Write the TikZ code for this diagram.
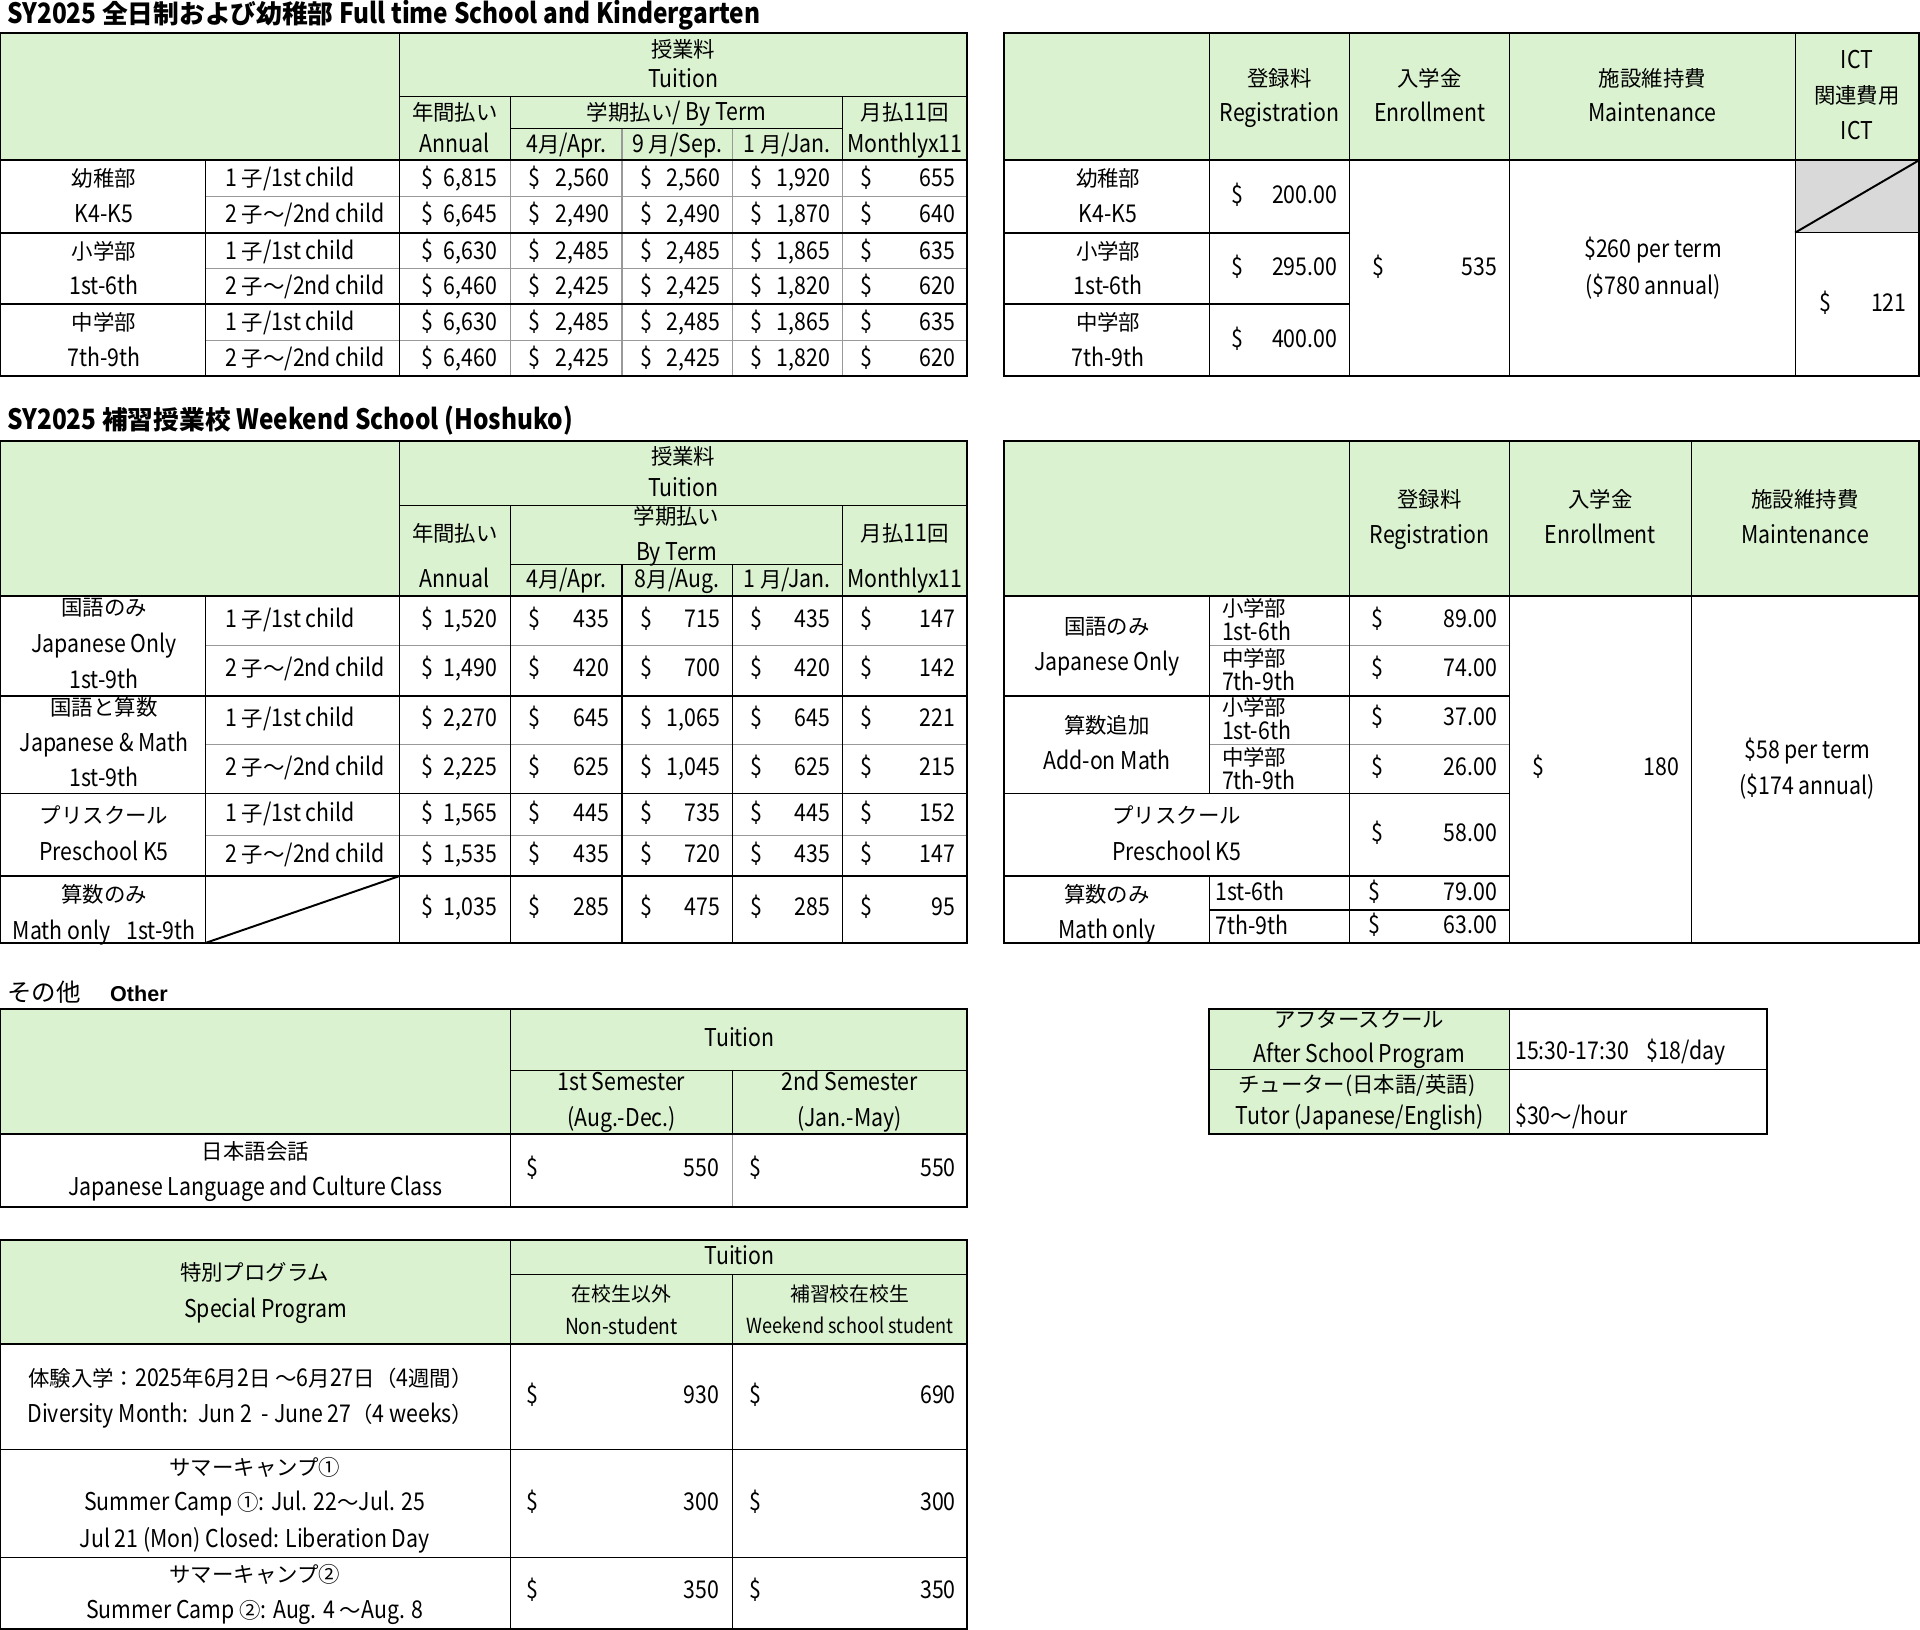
\documentclass[tikz,border=0pt]{standalone}
\usepackage{fontspec}
\setmainfont{Noto Sans CJK JP}[FakeStretch=0.87]
\newfontfamily\cjkf{Noto Sans CJK JP}
\newfontfamily\arialf{Liberation Sans}
\definecolor{hdr}{HTML}{DAF2D0}
\definecolor{ictgray}{HTML}{D9D9D9}
\newcounter{nd}
\newcommand\J[1]{{\cjkf\fontsize{17.5pt}{20pt}\selectfont #1}}
\newcommand\cellC[3]{\stepcounter{nd}\node[txt,anchor=base] (n\arabic{nd}) at (#1,#2) {#3};}
\newcommand\cellL[3]{\stepcounter{nd}\node[txt,anchor=base west] (n\arabic{nd}) at (#1,#2) {#3};}
\newcommand\cellR[3]{\stepcounter{nd}\node[txt,anchor=base east] (n\arabic{nd}) at (#1,#2) {#3};}
\newcommand\cellM[4]{\cellL{#1}{#3}{\$}\cellR{#2}{#3}{#4}}
\newcommand\rowA[6]{\cellM{344}{406}{#1}{#2}\cellM{432}{497.5}{#1}{#3}\cellM{523}{588}{#1}{#4}\cellM{613}{678}{#1}{#5}\cellM{703}{780}{#1}{#6}}
\newcommand\ttl[3]{\stepcounter{nd}\node[inner sep=0pt,outer sep=0pt,anchor=base west,font=\bfseries\fontsize{22.9pt}{28pt}\selectfont] (n\arabic{nd}) at (#1,#2) {#3};}
\newcommand\JT[1]{{\cjkf\bfseries\fontsize{21pt}{24pt}\selectfont #1}}
\begin{document}
\begin{tikzpicture}[x=1pt,y=-1pt,
  txt/.style={inner sep=0pt,outer sep=0pt,yshift=-6.6pt,font=\fontsize{20pt}{24pt}\selectfont},
  thk/.style={line width=1.6pt},
  med/.style={line width=1pt},
  gry/.style={line width=0.9pt,draw=black!40}]
\useasboundingbox[fill=white] (0,0) rectangle (1568,1331);

% ================= Titles
\ttl{6}{19}{SY2025 \JT{全日制および幼稚部} Full time School and Kindergarten}
\ttl{6}{351}{SY2025 \JT{補習授業校} Weekend School (Hoshuko)}
\ttl{6}{818}{{\cjkf\mdseries\fontsize{20pt}{24pt}\selectfont その他}}
\ttl{90}{818}{{\arialf\bfseries\fontsize{17.6pt}{20pt}\selectfont Other}}

% ================= Table 1
\fill[hdr] (0,27) rectangle (790,131);
\draw[gry] (508,105) -- (508,131) (598,105) -- (598,131);
\draw[gry] (168,160.5) -- (790,160.5) (168,219.5) -- (790,219.5) (168,278) -- (790,278);
\draw[gry] (417,131) -- (417,307) (508,131) -- (508,307) (598,131) -- (598,307) (688,131) -- (688,307);
\draw[med] (326,27) -- (326,307) (168,131) -- (168,307) (326,79) -- (790,79)
  (417,79) -- (417,131) (688,79) -- (688,131) (417,105) -- (688,105);
\draw[thk] (0,131) -- (790,131) (0,190) -- (790,190) (0,248.5) -- (790,248.5);
\draw[thk] (0,27) rectangle (790,307);
\cellC{558}{40}{\J{授業料}}
\cellC{558}{65}{Tuition}
\cellC{371.5}{92}{\J{年間払い}}
\cellC{371.5}{118}{Annual}
\cellC{552.5}{92}{\J{学期払い}/ By Term}
\cellC{462.5}{118}{4\J{月}/Apr.}
\cellC{553}{118}{9 \J{月}/Sep.}
\cellC{643}{118}{1 \J{月}/Jan.}
\cellC{739}{92}{\J{月払}11\J{回}}
\cellC{739}{118}{Monthlyx11}
\cellC{85}{146}{\J{幼稚部}}
\cellC{85}{175.5}{K4-K5}
\cellC{85}{205}{\J{小学部}}
\cellC{85}{234}{1st-6th}
\cellC{85}{263.5}{\J{中学部}}
\cellC{85}{293}{7th-9th}
\cellL{184}{146}{1 \J{子}/1st child}
\cellL{184}{175.5}{2 \J{子～}/2nd child}
\cellL{184}{205}{1 \J{子}/1st child}
\cellL{184}{234}{2 \J{子～}/2nd child}
\cellL{184}{263.5}{1 \J{子}/1st child}
\cellL{184}{293}{2 \J{子～}/2nd child}
\rowA{146}{6,815}{2,560}{2,560}{1,920}{655}
\rowA{175.5}{6,645}{2,490}{2,490}{1,870}{640}
\rowA{205}{6,630}{2,485}{2,485}{1,865}{635}
\rowA{234}{6,460}{2,425}{2,425}{1,820}{620}
\rowA{263.5}{6,630}{2,485}{2,485}{1,865}{635}
\rowA{293}{6,460}{2,425}{2,425}{1,820}{620}

% ================= Table 2
\fill[hdr] (820,27) rectangle (1567,131);
\fill[ictgray] (1466,131) rectangle (1567,190);
\draw[med] (988,27) -- (988,307) (1102,27) -- (1102,307) (1233,27) -- (1233,307) (1466,27) -- (1466,307)
  (1466,190) -- (1567,190);
\draw[thk] (820,190) -- (1102,190) (820,248.5) -- (1102,248.5);
\draw[thk] (1466,190) -- (1567,131);
\draw[thk] (820,131) -- (1567,131);
\draw[thk] (820,27) rectangle (1567,307);
\cellC{1045}{64}{\J{登録料}}
\cellC{1045}{93}{Registration}
\cellC{1167.5}{64}{\J{入学金}}
\cellC{1167.5}{93}{Enrollment}
\cellC{1349.5}{64}{\J{施設維持費}}
\cellC{1349.5}{93}{Maintenance}
\cellC{1516.5}{49}{ICT}
\cellC{1516.5}{78}{\J{関連費用}}
\cellC{1516.5}{107}{ICT}
\cellC{905}{146}{\J{幼稚部}}
\cellC{905}{175.5}{K4-K5}
\cellC{905}{205}{\J{小学部}}
\cellC{905}{234}{1st-6th}
\cellC{905}{263.5}{\J{中学部}}
\cellC{905}{293}{7th-9th}
\cellM{1006}{1092}{159.5}{200.00}
\cellM{1006}{1092}{218}{295.00}
\cellM{1006}{1092}{277}{400.00}
\cellM{1121}{1222.5}{218}{535}
\cellC{1350}{204}{\$260 per term}
\cellC{1350}{233.5}{(\$780 annual)}
\cellM{1485.5}{1557}{247.5}{121}

% ================= Table 3
\fill[hdr] (0,360) rectangle (790,487);
\draw[gry] (168,527.5) -- (790,527.5) (168,608) -- (790,608) (168,682) -- (790,682);
\draw[med] (326,360) -- (326,770) (326,413) -- (790,413) (417,413) -- (417,770) (688,413) -- (688,770)
  (417,461) -- (688,461) (508,461) -- (508,770) (598,461) -- (598,770) (168,487) -- (168,770);
\draw[thk] (0,487) -- (790,487) (0,568) -- (790,568) (0,648) -- (790,648) (0,715.5) -- (790,715.5);
\draw[thk] (168,770) -- (326,715.5);
\draw[thk] (0,360) rectangle (790,770);
\cellC{558}{372.5}{\J{授業料}}
\cellC{558}{399}{Tuition}
\cellC{371.5}{436}{\J{年間払い}}
\cellC{371.5}{473}{Annual}
\cellC{552.5}{422}{\J{学期払い}}
\cellC{552.5}{451.5}{By Term}
\cellC{462.5}{473}{4\J{月}/Apr.}
\cellC{553}{473}{8\J{月}/Aug.}
\cellC{643}{473}{1 \J{月}/Jan.}
\cellC{739}{436}{\J{月払}11\J{回}}
\cellC{739}{473}{Monthlyx11}
\cellC{85}{496}{\J{国語のみ}}
\cellC{85}{526.5}{Japanese Only}
\cellC{85}{556}{1st-9th}
\cellC{85}{577.5}{\J{国語と算数}}
\cellC{85}{607.5}{Japanese \& Math}
\cellC{85}{636}{1st-9th}
\cellC{85}{666}{\J{プリスクール}}
\cellC{85}{696}{Preschool K5}
\cellC{85}{730.5}{\J{算数のみ}}
\cellC{85}{760.5}{Math only\hspace{12.8pt}1st-9th}
\cellL{184}{505.5}{1 \J{子}/1st child}
\cellL{184}{545.5}{2 \J{子～}/2nd child}
\cellL{184}{586.5}{1 \J{子}/1st child}
\cellL{184}{626.5}{2 \J{子～}/2nd child}
\cellL{184}{664.5}{1 \J{子}/1st child}
\cellL{184}{698}{2 \J{子～}/2nd child}
\rowA{505.5}{1,520}{435}{715}{435}{147}
\rowA{545.5}{1,490}{420}{700}{420}{142}
\rowA{586.5}{2,270}{645}{1,065}{645}{221}
\rowA{626.5}{2,225}{625}{1,045}{625}{215}
\rowA{664.5}{1,565}{445}{735}{445}{152}
\rowA{698}{1,535}{435}{720}{435}{147}
\rowA{741}{1,035}{285}{475}{285}{95}

% ================= Table 4
\fill[hdr] (820,360) rectangle (1567,487);
\draw[gry] (988,527.5) -- (1233,527.5) (988,608) -- (1233,608);
\draw[med] (1102,360) -- (1102,770) (1233,360) -- (1233,770) (1381.5,360) -- (1381.5,770)
  (988,487) -- (988,648) (988,715.5) -- (988,770);
\draw[thk] (820,568) -- (1233,568) (820,648) -- (1233,648) (820,715.5) -- (1233,715.5) (988,743) -- (1233,743);
\draw[thk] (820,487) -- (1567,487);
\draw[thk] (820,360) rectangle (1567,770);
\cellC{1167.5}{408}{\J{登録料}}
\cellC{1167.5}{437}{Registration}
\cellC{1307}{408}{\J{入学金}}
\cellC{1307}{437}{Enrollment}
\cellC{1474}{408}{\J{施設維持費}}
\cellC{1474}{437}{Maintenance}
\cellC{904}{511.5}{\J{国語のみ}}
\cellC{904}{541}{Japanese Only}
\cellL{998}{497}{\J{小学部}}
\cellL{998}{516.5}{1st-6th}
\cellL{998}{537.5}{\J{中学部}}
\cellL{998}{557.5}{7th-9th}
\cellC{904}{592.5}{\J{算数追加}}
\cellC{904}{622}{Add-on Math}
\cellL{998}{578}{\J{小学部}}
\cellL{998}{597.5}{1st-6th}
\cellL{998}{618.5}{\J{中学部}}
\cellL{998}{638.5}{7th-9th}
\cellC{961}{666}{\J{プリスクール}}
\cellC{961}{696}{Preschool K5}
\cellC{904}{730.5}{\J{算数のみ}}
\cellC{904}{759.5}{Math only}
\cellL{992.5}{729}{1st-6th}
\cellL{992.5}{756.5}{7th-9th}
\cellM{1120}{1222.5}{506}{89.00}
\cellM{1120}{1222.5}{546}{74.00}
\cellM{1120}{1222.5}{586}{37.00}
\cellM{1120}{1222.5}{626.5}{26.00}
\cellM{1120}{1222.5}{680.5}{58.00}
\cellM{1117.5}{1222.5}{729}{79.00}
\cellM{1117.5}{1222.5}{756}{63.00}
\cellM{1251.5}{1371.5}{626.5}{180}
\cellC{1476}{613}{\$58 per term}
\cellC{1476}{642}{(\$174 annual)}

% ================= Table 5
\fill[hdr] (0,824) rectangle (790,926);
\draw[gry] (598,926) -- (598,986);
\draw[med] (417,824) -- (417,986) (417,874) -- (790,874) (598,874) -- (598,926);
\draw[thk] (0,926) -- (790,926);
\draw[thk] (0,824) rectangle (790,986);
\cellC{604}{848}{Tuition}
\cellC{507.5}{884}{1st Semester}
\cellC{507.5}{913}{(Aug.-Dec.)}
\cellC{694}{884}{2nd Semester}
\cellC{694}{913}{(Jan.-May)}
\cellC{208.5}{940.5}{\J{日本語会話}}
\cellC{208.5}{970}{Japanese Language and Culture Class}
\cellM{430}{587.5}{954.5}{550}
\cellM{612}{780.5}{954.5}{550}

% ================= Table 6
\fill[hdr] (0,1013) rectangle (790,1097.5);
\draw[med] (417,1013) -- (417,1330) (417,1041) -- (790,1041) (598,1041) -- (598,1330)
  (0,1184) -- (790,1184) (0,1272) -- (790,1272);
\draw[thk] (0,1097.5) -- (790,1097.5);
\draw[thk] (0,1013) rectangle (790,1330);
\cellC{604}{1026}{Tuition}
\cellC{208}{1039.5}{\J{特別プログラム}}
\cellC{217}{1069}{Special Program}
\cellC{507.5}{1056}{{\cjkf\fontsize{16.2pt}{19pt}\selectfont 在校生以外}}
\cellC{507.5}{1083}{{\fontsize{18pt}{21pt}\selectfont Non-student}}
\cellC{694}{1056}{{\cjkf\fontsize{16.2pt}{19pt}\selectfont 補習校在校生}}
\cellC{694}{1082}{{\fontsize{17pt}{20pt}\selectfont Weekend school student}}
\cellC{204.5}{1125.5}{\J{体験入学：}2025\J{年}6\J{月}2\J{日 ～}6\J{月}27\J{日（}4\J{週間）}}
\cellC{204.5}{1155}{Diversity Month:\ \ Jun 2\ \ - June 27\J{（}4 weeks\J{）}}
\cellM{430}{587.5}{1139.5}{930}
\cellM{612}{780.5}{1139.5}{690}
\cellC{208}{1198}{\J{サマーキャンプ①}}
\cellC{208}{1227}{Summer Camp \J{①}: Jul. 22\J{～}Jul. 25}
\cellC{208}{1257}{Jul 21 (Mon) Closed: Liberation Day}
\cellM{430}{587.5}{1227}{300}
\cellM{612}{780.5}{1227}{300}
\cellC{208}{1285.5}{\J{サマーキャンプ②}}
\cellC{208}{1315}{Summer Camp \J{②}: Aug. 4 \J{～}Aug. 8}
\cellM{430}{587.5}{1299}{350}
\cellM{612}{780.5}{1299}{350}

% ================= Table 7
\fill[hdr] (987.5,824) rectangle (1233,926);
\draw[med] (1233,824) -- (1233,926) (987.5,873.5) -- (1443,873.5);
\draw[thk] (987.5,824) rectangle (1443,926);
\cellC{1110}{832.5}{\J{アフタースクール}}
\cellC{1110}{861.5}{After School Program}
\cellC{1108}{886}{\J{チューター(日本語/英語)}}
\cellC{1110.5}{912}{Tutor (Japanese/English)}
\cellL{1237.5}{859}{15:30-17:30\hspace{14pt}\$18/day}
\cellL{1237.5}{912}{\$30\J{～}/hour}
\end{tikzpicture}
\end{document}
